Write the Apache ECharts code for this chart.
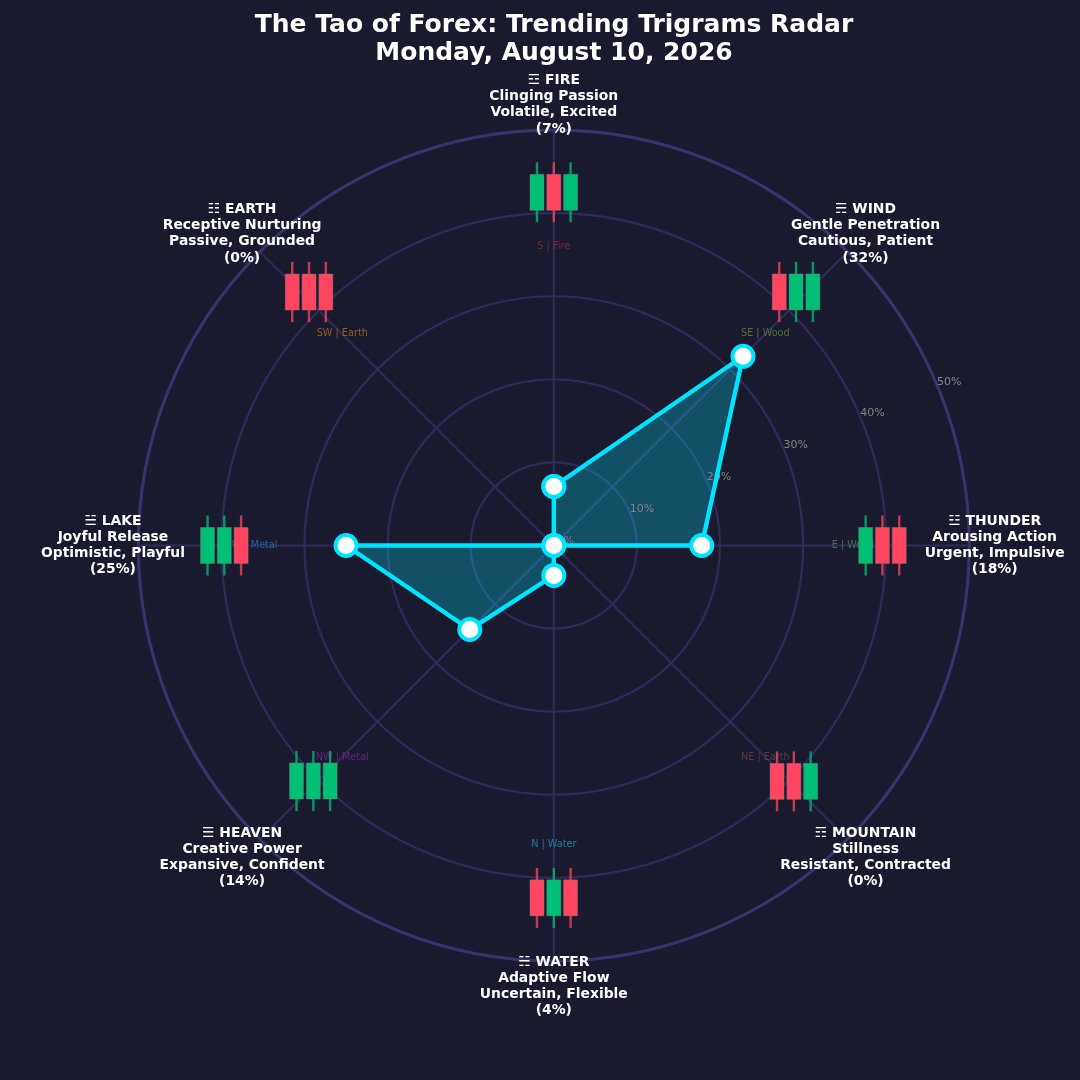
<!DOCTYPE html>
<html><head><meta charset="utf-8">
<style>html,body{margin:0;padding:0;background:#1a1a2e}#c{width:1080px;height:1080px}</style>
<script src="https://cdn.jsdelivr.net/npm/echarts@6/dist/echarts.min.js"></script>
</head><body><div id="c"></div>
<script>
const titleLines = ['The Tao of Forex: Trending Trigrams Radar', 'Monday, August 10, 2026'];
const angles = [0, 45, 90, 135, 180, 225, 270, 315];
const trigrams = ['☲ FIRE', '☴ WIND', '☳ THUNDER', '☶ MOUNTAIN', '☵ WATER', '☰ HEAVEN', '☱ LAKE', '☷ EARTH'];
const meanings = ['Clinging Passion', 'Gentle Penetration', 'Arousing Action', 'Stillness', 'Adaptive Flow', 'Creative Power', 'Joyful Release', 'Receptive Nurturing'];
const moods = ['Volatile, Excited', 'Cautious, Patient', 'Urgent, Impulsive', 'Resistant, Contracted', 'Uncertain, Flexible', 'Expansive, Confident', 'Optimistic, Playful', 'Passive, Grounded'];
const values = [7.1, 32.2, 17.8, 0, 3.6, 14.3, 25, 0];
const percents = ['7%', '32%', '18%', '0%', '4%', '14%', '25%', '0%'];
const directions = ['S | Fire', 'SE | Wood', 'E | Wood', 'NE | Earth', 'N | Water', 'NW | Metal', 'W | Metal', 'SW | Earth'];
const directionColors = ['#742a38', '#54723a', '#3f724b', '#543d45', '#1a8295', '#66208c', '#2b5f9b', '#94601f'];
const candles = ['GRG', 'RGG', 'GRR', 'RRG', 'RGR', 'GGG', 'GGR', 'RRR'];
const tickValues = [0, 10, 20, 30, 40, 50];

const candleRadius = [42.5, 42.2, 39.55, 40.5, 42.4, 40.5, 39.65, 42.4];
const candleAngle = [0, 43.7, 90, 134.5, 180, 225.6, 270, 316];
const CYAN = '#00e5ff', GREEN = '#00c076', RED = '#ff4560';
const FONT = '"DejaVu Sans"';
const closed = angles.map((a, i) => [values[i], a]).concat([[values[0], 360]]);

const textSeries = (z, data) => ({
  type: 'scatter', coordinateSystem: 'polar', symbol: 'circle', symbolSize: 1, clip: false,
  itemStyle: { color: 'transparent', opacity: 1 }, silent: true, z, data
});
const textItem = (r, a, text, style) => ({
  value: [r, a],
  label: Object.assign({ show: true, position: 'inside', align: 'center', verticalAlign: 'middle', fontFamily: FONT, formatter: () => text }, style)
});

const chart = echarts.init(document.getElementById('c'), null, { renderer: 'canvas' });
chart.setOption({
  animation: false,
  backgroundColor: '#1a1a2e',
  title: {
    text: titleLines.join('\n'), left: 549, top: 6, textAlign: 'center',
    textStyle: { color: '#ffffff', fontFamily: FONT, fontWeight: 'bold', fontSize: 25, lineHeight: 28.6 }
  },
  polar: { center: [553.8, 545.5], radius: 415.5 },
  angleAxis: {
    type: 'value', min: 0, max: 360, interval: 45, startAngle: 90, clockwise: true,
    axisLabel: { show: false }, axisTick: { show: false },
    axisLine: { show: true, lineStyle: { color: '#38336e', width: 3 } },
    splitLine: { show: true, lineStyle: { color: '#2e2b5c', width: 2.1 } }
  },
  radiusAxis: {
    type: 'value', min: 0, max: 50, interval: 10,
    axisLabel: { show: false }, axisTick: { show: false }, axisLine: { show: false },
    splitLine: { show: true, lineStyle: { color: '#2e2b5c', width: 2.1 } }
  },
  series: [
    textSeries(2, directions.map((d, i) => textItem(36, angles[i], d, { color: directionColors[i], fontSize: 9.7 }))),
    {
      type: 'line', coordinateSystem: 'polar', z: 3, silent: true, symbol: 'none',
      data: closed, lineStyle: { width: 0 }, areaStyle: { color: CYAN, opacity: 0.27 }
    },
    textSeries(4, tickValues.map(v => textItem(v + 1.5, 67.5, v + '%', { color: '#858585', fontSize: 11 }))),
    {
      type: 'line', coordinateSystem: 'polar', z: 5, silent: true,
      data: closed, symbol: 'circle', symbolSize: 21, showAllSymbol: true,
      lineStyle: { color: CYAN, width: 4.4 },
      itemStyle: { color: '#ffffff', borderColor: CYAN, borderWidth: 4 }
    },
    {
      type: 'custom', coordinateSystem: 'polar', z: 6, silent: true,
      data: angles.map((a, i) => [candleRadius[i], candleAngle[i], i]),
      encode: { radius: 0, angle: 1 },
      renderItem(params, api) {
        const p = api.coord([api.value(0), api.value(1)]);
        const pattern = candles[api.value(2)];
        const children = [];
        pattern.split('').forEach((c, k) => {
          const x = p[0] + (k - 1) * 16.8, col = c === 'G' ? GREEN : RED;
          children.push({ type: 'rect', shape: { x: x - 1.2, y: p[1] - 30, width: 2.4, height: 60 },
            style: { fill: col, opacity: 0.75 } });
          children.push({ type: 'rect', shape: { x: x - 7, y: p[1] - 18, width: 14, height: 36 },
            style: { fill: col, stroke: 'rgba(125,125,125,0.7)', lineWidth: 0.6 } });
        });
        return { type: 'group', children };
      }
    },
    textSeries(7, angles.map((a, i) => textItem(53.05, a,
      [trigrams[i], meanings[i], moods[i], '(' + percents[i] + ')'].join('\n'),
      { color: '#ffffff', fontWeight: 'bold', fontSize: 13.9, lineHeight: 16.2 })))
  ]
});
</script></body></html>
